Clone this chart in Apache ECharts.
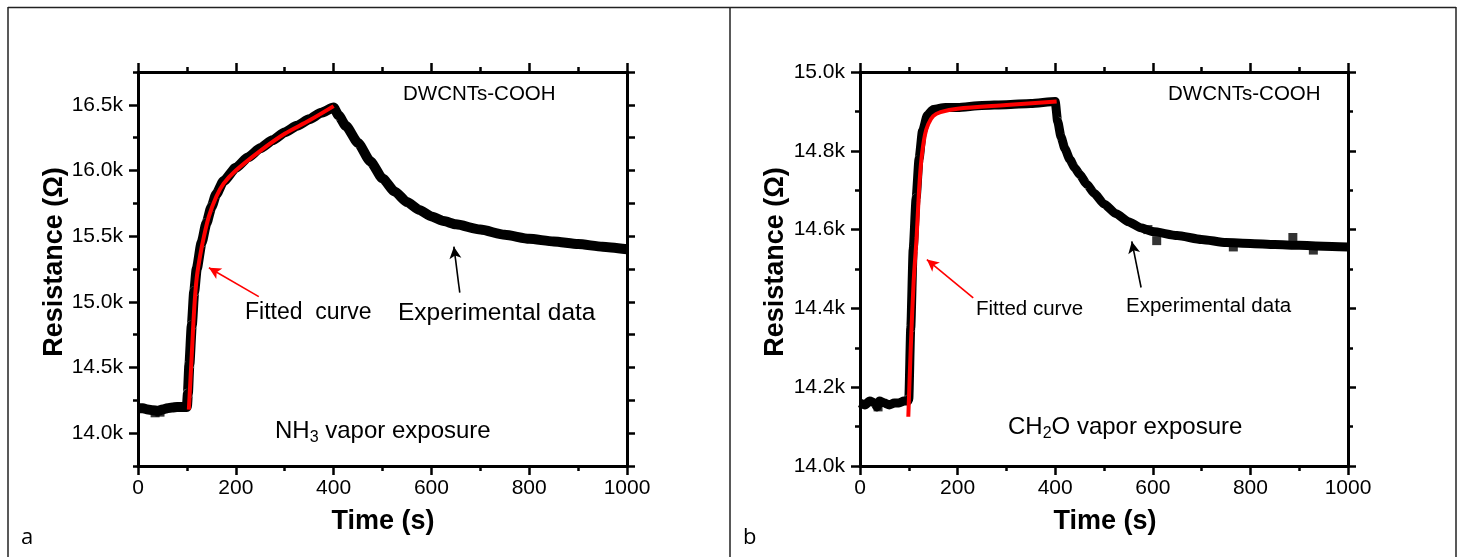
<!DOCTYPE html>
<html>
<head>
<meta charset="utf-8">
<script src="https://cdn.jsdelivr.net/npm/echarts@6/dist/echarts.min.js"></script>
<style>
html,body{margin:0;padding:0;background:#fff;}
#chart{width:1464px;height:557px;}
</style>
</head>
<body>
<div id="chart"></div>
<script>
// ---------- Panel a : NH3 ----------
var tA_exp = [0,10,20,30,40,50,60,70,80,90,100,102,105,110,115,120,130,140,150,160,175,200,225,250,275,300,325,350,375,400,410,425,450,475,500,525,550,575,600,625,650,700,750,800,850,900,950,1000];
var rA_exp = [14190,14190,14180,14175,14170,14180,14190,14195,14200,14200,14200,14300,14520,14820,15080,15250,15450,15600,15720,15820,15920,16020,16100,16170,16230,16290,16340,16390,16440,16480,16420,16340,16210,16070,15940,15840,15760,15700,15650,15615,15590,15550,15510,15480,15460,15440,15420,15400];
var tA_fit = [104,110,115,120,127,135,145,160,175,200,250,300,350,400];
var rA_fit = [14180,14600,14950,15180,15350,15500,15650,15800,15900,16000,16150,16280,16380,16490];
var tA_noise = [35,45];
var rA_noise = [14155,14160];
var yTicksA = [13750,16750,250];      // min, max, interval
var yMajorA = [14000,14500,15000,15500,16000,16500];

// ---------- Panel b : CH2O ----------
var tB_exp = [0,10,20,30,35,40,50,60,70,80,90,98,100,104,109,115,121,128,138,150,175,200,250,300,350,400,405,412,420,430,440,450,465,480,500,525,550,575,600,650,700,750,800,850,900,950,1000];
var rB_exp = [14160,14155,14165,14160,14150,14165,14160,14155,14160,14160,14165,14165,14170,14350,14550,14680,14780,14850,14890,14905,14910,14910,14915,14917,14920,14925,14875,14835,14805,14778,14757,14740,14715,14692,14665,14640,14620,14605,14595,14585,14575,14567,14565,14562,14560,14558,14556];
var tB_fit = [99,104,110,116,121,126,133,140,150,165,200,300,403];
var rB_fit = [14125,14300,14470,14580,14700,14780,14840,14868,14888,14898,14907,14916,14925];
var tB_noise = [37,590,608,765,887,929];
var rB_noise = [14150,14600,14572,14556,14580,14548];
var yTicksB = [14000,15000,200];

var xTicks = [0,1000,200];

var FONT = 'Liberation Sans, Arial, sans-serif';

function zip(a,b){return a.map(function(v,i){return [v,b[i]];});}

function xBottom(grid){
  return {gridIndex:grid,type:'value',position:'bottom',min:xTicks[0],max:xTicks[1],interval:xTicks[2],
    axisLine:{show:true,onZero:false,lineStyle:{color:'#000',width:3}},
    axisTick:{show:true,length:9,lineStyle:{color:'#000',width:2.5}},
    minorTick:{show:true,splitNumber:2,length:5,lineStyle:{color:'#000',width:2.5}},
    axisLabel:{show:true,color:'#000',fontFamily:FONT,fontSize:21,margin:12,
      formatter:function(v){return String(v);}},
    splitLine:{show:false}};
}
function xTop(grid){
  return {gridIndex:grid,type:'value',position:'top',min:xTicks[0],max:xTicks[1],interval:xTicks[2],
    axisLine:{show:true,onZero:false,lineStyle:{color:'#000',width:3}},
    axisTick:{show:true,length:9,lineStyle:{color:'#000',width:2.5}},
    minorTick:{show:true,splitNumber:2,length:5,lineStyle:{color:'#000',width:2.5}},
    axisLabel:{show:false},splitLine:{show:false}};
}

var option = {
  animation:false,
  backgroundColor:'#fff',
  grid:[
    {left:138,top:72,width:489,height:394},
    {left:860,top:72,width:488,height:394}
  ],
  xAxis:[xBottom(0),xTop(0),xBottom(1),xTop(1)],
  yAxis:[
    {gridIndex:0,type:'value',position:'left',min:yTicksA[0],max:yTicksA[1],interval:yTicksA[2],
      axisLine:{show:true,onZero:false,lineStyle:{color:'#000',width:3}},
      axisTick:{show:true,length:5,lineStyle:{color:'#000',width:2.5}},
      axisLabel:{show:true,color:'#000',fontFamily:FONT,fontSize:21,margin:15,
        formatter:function(v){return (v%500===0)?(v/1000).toFixed(1)+'k':'';}},
      splitLine:{show:false}},
    {gridIndex:0,type:'value',position:'left',offset:0,min:yTicksA[0],max:yTicksA[1],interval:yTicksA[2],
      axisLine:{show:false},
      axisTick:{show:true,length:9,customValues:yMajorA,lineStyle:{color:'#000',width:2.5}},
      axisLabel:{show:false},splitLine:{show:false}},
    {gridIndex:0,type:'value',position:'right',min:yTicksA[0],max:yTicksA[1],interval:yTicksA[2],
      axisLine:{show:true,onZero:false,lineStyle:{color:'#000',width:3}},
      axisTick:{show:true,length:8,lineStyle:{color:'#000',width:2.5}},
      axisLabel:{show:false},splitLine:{show:false}},
    {gridIndex:1,type:'value',position:'left',min:yTicksB[0],max:yTicksB[1],interval:yTicksB[2],
      axisLine:{show:true,onZero:false,lineStyle:{color:'#000',width:3}},
      axisTick:{show:true,length:9,lineStyle:{color:'#000',width:2.5}},
      minorTick:{show:true,splitNumber:2,length:5,lineStyle:{color:'#000',width:2.5}},
      axisLabel:{show:true,color:'#000',fontFamily:FONT,fontSize:21,margin:15,
        formatter:function(v){return (v/1000).toFixed(1)+'k';}},
      splitLine:{show:false}},
    {gridIndex:1,type:'value',position:'right',min:yTicksB[0],max:yTicksB[1],interval:yTicksB[2],
      axisLine:{show:true,onZero:false,lineStyle:{color:'#000',width:3}},
      axisTick:{show:true,length:8,lineStyle:{color:'#000',width:2.5}},
      minorTick:{show:true,splitNumber:2,length:5,lineStyle:{color:'#000',width:2.5}},
      axisLabel:{show:false},splitLine:{show:false}}
  ],
  series:[
    {type:'line',xAxisIndex:0,yAxisIndex:0,data:zip(tA_exp,rA_exp),symbol:'none',smooth:0.2,smoothMonotone:'x',
      lineStyle:{color:'#000',width:10,join:'round',cap:'butt'},z:2,
      markLine:{silent:true,symbol:['none','arrow'],symbolSize:[9,12],label:{show:false},animation:false,
        lineStyle:{color:'#000',width:1.6,type:'solid'},
        data:[[{coord:[658,15070]},{coord:[646,15420]}]]}},
    {type:'scatter',xAxisIndex:0,yAxisIndex:0,data:zip(tA_noise,rA_noise),symbol:'rect',symbolSize:9,
      itemStyle:{color:'#000'},z:2},
    {type:'line',xAxisIndex:0,yAxisIndex:0,data:zip(tA_fit,rA_fit),symbol:'none',smooth:0.3,
      lineStyle:{color:'#ff0000',width:4},z:3,
      markLine:{silent:true,symbol:['none','arrow'],symbolSize:[9,12],label:{show:false},animation:false,
        lineStyle:{color:'#ff0000',width:1.6,type:'solid'},
        data:[[{coord:[247,15040]},{coord:[145,15260]}]]}},
    {type:'line',xAxisIndex:2,yAxisIndex:3,data:zip(tB_exp,rB_exp),symbol:'none',smooth:0.2,smoothMonotone:'x',
      lineStyle:{color:'#000',width:9,join:'round',cap:'butt'},z:2,
      markLine:{silent:true,symbol:['none','arrow'],symbolSize:[9,12],label:{show:false},animation:false,
        lineStyle:{color:'#000',width:1.6,type:'solid'},
        data:[[{coord:[576,14453]},{coord:[557,14570]}]]}},
    {type:'scatter',xAxisIndex:2,yAxisIndex:3,data:zip(tB_noise,rB_noise),symbol:'rect',symbolSize:9,
      itemStyle:{color:'#000'},z:2},
    {type:'line',xAxisIndex:2,yAxisIndex:3,data:zip(tB_fit,rB_fit),symbol:'none',smooth:0.3,
      lineStyle:{color:'#ff0000',width:4},z:3,
      markLine:{silent:true,symbol:['none','arrow'],symbolSize:[9,12],label:{show:false},animation:false,
        lineStyle:{color:'#ff0000',width:1.6,type:'solid'},
        data:[[{coord:[232,14427]},{coord:[137,14524]}]]}}
  ],
  graphic:[
    {type:'line',shape:{x1:8,y1:7.5,x2:1456,y2:7.5},style:{stroke:'#222',lineWidth:1.5},silent:true},
    {type:'line',shape:{x1:8,y1:7,x2:8,y2:557},style:{stroke:'#222',lineWidth:1.5},silent:true},
    {type:'line',shape:{x1:730,y1:7,x2:730,y2:557},style:{stroke:'#222',lineWidth:1.5},silent:true},
    {type:'line',shape:{x1:1456,y1:7,x2:1456,y2:557},style:{stroke:'#222',lineWidth:1.5},silent:true},
    {type:'text',x:55,y:262,rotation:Math.PI/2,style:{text:'Resistance (Ω)',font:'bold 27px '+FONT,fill:'#000',textAlign:'center',textVerticalAlign:'middle'}},
    {type:'text',x:383,y:522,style:{text:'Time (s)',font:'bold 27px '+FONT,fill:'#000',textAlign:'center',textVerticalAlign:'middle'}},
    {type:'text',x:776,y:262,rotation:Math.PI/2,style:{text:'Resistance (Ω)',font:'bold 27px '+FONT,fill:'#000',textAlign:'center',textVerticalAlign:'middle'}},
    {type:'text',x:1105,y:522,style:{text:'Time (s)',font:'bold 27px '+FONT,fill:'#000',textAlign:'center',textVerticalAlign:'middle'}},
    {type:'text',x:21,y:538,style:{text:'a',font:'22px Open Sans, sans-serif',fill:'#000',textVerticalAlign:'middle'}},
    {type:'text',x:743,y:538,style:{text:'b',font:'22px Open Sans, sans-serif',fill:'#000',textVerticalAlign:'middle'}},
    {type:'text',x:403,y:94,style:{text:'DWCNTs-COOH',font:'20.5px '+FONT,fill:'#000',textVerticalAlign:'middle'}},
    {type:'text',x:245,y:313,style:{text:'Fitted  curve',font:'23px '+FONT,fill:'#000',textVerticalAlign:'middle'}},
    {type:'text',x:398,y:313,style:{text:'Experimental data',font:'24.5px '+FONT,fill:'#000',textVerticalAlign:'middle'}},
    {type:'text',x:275,y:431,style:{text:'{n|NH}{s|3}{n| vapor exposure}',fill:'#000',textVerticalAlign:'middle',
      rich:{n:{font:'24px '+FONT,fill:'#000'},s:{font:'16px '+FONT,fill:'#000',padding:[13,0,0,0]}}}},
    {type:'text',x:1168,y:94,style:{text:'DWCNTs-COOH',font:'20.5px '+FONT,fill:'#000',textVerticalAlign:'middle'}},
    {type:'text',x:976,y:309,style:{text:'Fitted curve',font:'20.5px '+FONT,fill:'#000',textVerticalAlign:'middle'}},
    {type:'text',x:1126,y:306,style:{text:'Experimental data',font:'20.5px '+FONT,fill:'#000',textVerticalAlign:'middle'}},
    {type:'text',x:1008,y:427,style:{text:'{n|CH}{s|2}{n|O vapor exposure}',fill:'#000',textVerticalAlign:'middle',
      rich:{n:{font:'24px '+FONT,fill:'#000'},s:{font:'16px '+FONT,fill:'#000',padding:[13,0,0,0]}}}}
  ]
};

var chart = echarts.init(document.getElementById('chart'),null,{renderer:'canvas'});
chart.setOption(option);
</script>
</body>
</html>
